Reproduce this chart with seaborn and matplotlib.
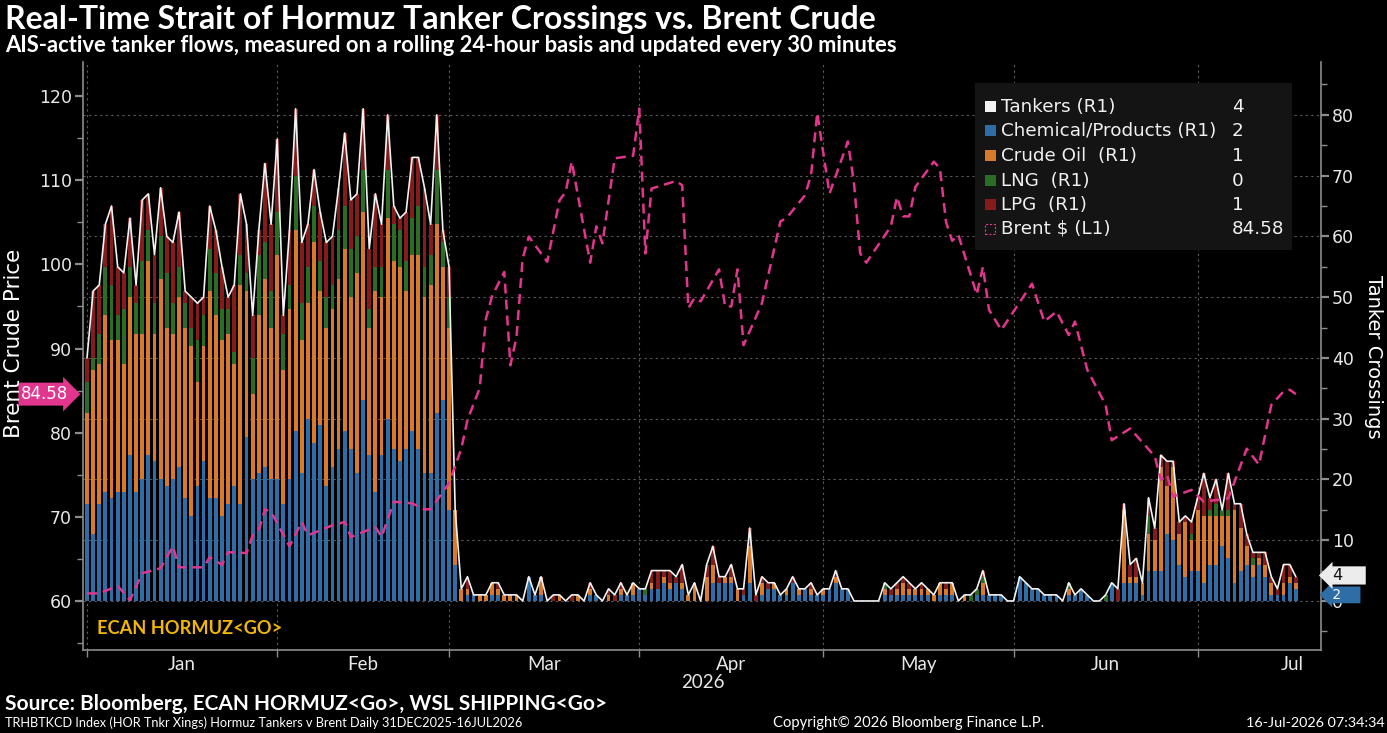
import matplotlib
matplotlib.use("Agg")
import numpy as np
import pandas as pd
import matplotlib.pyplot as plt
import matplotlib.transforms as mtransforms
from matplotlib import font_manager
from matplotlib.patches import Rectangle
from matplotlib.ticker import FixedLocator
import seaborn as sns

# ---- data (daily, 31 Dec 2025 .. 16 Jul 2026) ----
start = pd.Timestamp("2025-12-31")
end = pd.Timestamp("2026-07-16")

chemical = [
    16, 11, 16, 18, 17, 18, 18, 24, 18, 20,  24, 23, 20, 19, 20, 22, 17, 14, 19, 23,
    17, 17, 14, 16, 19, 16, 27, 20, 21, 22,  20, 20, 16, 20, 28, 21, 30, 26, 29, 19,
    22, 25, 28, 25, 21, 33, 24, 18, 24, 30,  25, 23, 25, 28, 25, 21, 21, 31, 33, 15,
    6, 0, 1, 1, 0, 0, 1, 1, 0, 0,  0, 0, 4, 1, 1, 0, 0, 0, 0, 0,
    0, 0, 1, 1, 0, 0, 0, 1, 1, 1,  2, 1, 2, 2, 3, 2, 3, 2, 0, 0,
    0, 0, 3, 3, 3, 3, 0, 1, 3, 0,  1, 2, 2, 1, 1, 3, 1, 2, 1, 1,
    1, 2, 3, 2, 2, 0, 0, 0, 0, 0,  1, 1, 1, 1, 1, 1, 1, 1, 0, 1,
    1, 1, 0, 0, 0, 1, 1, 1, 1, 1,  0, 0, 4, 3, 2, 2, 1, 1, 1, 0,
    1, 1, 2, 1, 0, 0, 0, 3, 0, 3,  3, 3, 1, 5, 5, 5, 11, 10, 6, 4,
    5, 5, 3, 6, 6, 9, 7, 3, 5, 6,  4, 6, 4, 1, 1, 1, 3, 2,
]
crude = [
    15, 27, 23, 29, 26, 25, 21, 26, 26, 24,  32, 21, 33, 26, 24, 28, 28, 28, 17, 19,
    34, 30, 29, 28, 20, 36, 24, 14, 26, 31,  25, 37, 22, 28, 33, 22, 19, 33, 22, 26,
    26, 28, 30, 25, 33, 31, 21, 33, 26, 33,  31, 32, 26, 29, 32, 29, 31, 31, 22, 30,
    9, 2, 1, 0, 1, 1, 2, 1, 1, 1,  1, 0, 0, 0, 3, 0, 0, 1, 0, 0,
    1, 0, 1, 0, 0, 1, 0, 1, 0, 2,  0, 0, 1, 0, 1, 1, 0, 1, 1, 3,
    0, 4, 3, 0, 1, 1, 2, 0, 6, 0,  2, 0, 1, 0, 1, 0, 1, 0, 1, 0,
    1, 0, 1, 0, 0, 0, 0, 0, 0, 0,  1, 0, 1, 2, 1, 1, 1, 1, 1, 2,
    1, 2, 0, 1, 0, 0, 2, 0, 0, 0,  0, 0, 0, 0, 0, 0, 0, 0, 0, 0,
    1, 0, 0, 0, 0, 0, 0, 0, 0, 12,  1, 1, 2, 6, 5, 17, 8, 12, 5, 9,
    5, 10, 11, 8, 8, 5, 7, 12, 7, 3,  2, 1, 2, 2, 0, 2, 1, 1,
]
lng = [
    5, 2, 5, 8, 9, 4, 9, 5, 5, 12,  5, 5, 7, 9, 5, 5, 4, 3, 7, 5,
    7, 7, 5, 4, 2, 5, 3, 6, 10, 6,  6, 7, 6, 4, 9, 6, 6, 6, 5, 5,
    4, 8, 7, 8, 6, 7, 3, 4, 5, 8,  6, 6, 5, 6, 8, 5, 5, 9, 4, 5,
    0, 0, 0, 0, 0, 0, 0, 0, 0, 0,  0, 0, 0, 0, 0, 0, 0, 0, 0, 0,
    0, 0, 0, 0, 0, 0, 0, 0, 0, 0,  0, 1, 0, 0, 0, 0, 0, 0, 0, 0,
    0, 0, 0, 0, 0, 0, 0, 0, 0, 0,  0, 0, 0, 0, 0, 0, 0, 0, 0, 0,
    0, 0, 0, 0, 0, 0, 0, 0, 0, 0,  1, 0, 0, 0, 0, 0, 0, 0, 0, 0,
    0, 0, 0, 0, 1, 1, 1, 0, 0, 0,  0, 0, 0, 0, 0, 0, 0, 0, 0, 0,
    1, 0, 0, 0, 0, 0, 1, 0, 0, 0,  0, 0, 0, 3, 0, 0, 0, 0, 0, 0,
    1, 0, 0, 1, 2, 1, 1, 0, 0, 0,  1, 0, 0, 0, 0, 0, 0, 0,
]
lpg = [
    4, 11, 8, 7, 13, 8, 6, 8, 3, 10,  6, 8, 8, 6, 10, 9, 2, 5, 6, 3,
    7, 7, 7, 2, 11, 10, 8, 7, 4, 13,  11, 12, 3, 9, 11, 10, 7, 6, 8, 9,
    8, 7, 12, 8, 7, 10, 10, 12, 7, 9,  3, 2, 8, 10, 8, 13, 5, 9, 2, 5,
    0, 0, 2, 0, 0, 0, 0, 1, 0, 0,  0, 0, 0, 0, 0, 0, 1, 0, 0, 1,
    0, 0, 1, 0, 0, 1, 1, 1, 0, 0,  0, 0, 2, 3, 1, 2, 1, 3, 0, 0,
    0, 2, 3, 1, 0, 2, 0, 1, 3, 1,  1, 1, 0, 0, 0, 1, 0, 0, 1, 0,
    0, 0, 1, 0, 0, 0, 0, 0, 0, 0,  0, 1, 1, 1, 1, 0, 1, 0, 0, 0,
    1, 0, 0, 0, 0, 0, 1, 0, 0, 0,  0, 0, 0, 0, 0, 0, 0, 0, 0, 0,
    0, 0, 0, 0, 0, 0, 0, 0, 2, 1,  2, 3, 0, 3, 2, 2, 4, 1, 2, 1,
    2, 2, 7, 2, 4, 0, 6, 1, 4, 2,  1, 1, 2, 1, 1, 3, 2, 1,
]

# Brent: day offset from 31 Dec 2025 and price
brent_day = [
    0, 2, 5, 7, 9, 12, 14, 15, 19, 20, 22, 23, 26, 27, 28, 29, 30, 33, 35, 36,
    40, 42, 43, 47, 48, 50, 53, 55, 56, 59, 61, 62, 64, 65, 66, 68, 69, 70, 71, 72,
    75, 77, 78, 79, 82, 83, 84, 86, 89, 90, 91, 92, 96, 97, 98, 99, 100, 103, 104, 105,
    106, 107, 110, 113, 114, 117, 118, 119, 121, 124, 125, 126, 127, 131, 132, 133, 134, 135, 138, 139,
    140, 141, 142, 145, 146, 147, 149, 154, 156, 158, 160, 161, 163, 166, 167, 170, 174, 175, 176, 177,
    180, 182, 186, 189, 191, 193, 195, 196, 197,
]
brent_price = [
    60.9, 60.9, 61.8, 60.1, 63.3, 63.9, 66.5, 64.0, 64.0, 65.2, 64.3, 65.8, 65.7, 67.8, 68.4, 70.9, 70.6, 66.5, 69.4, 67.8,
    69.0, 69.4, 67.6, 68.8, 67.6, 71.8, 71.6, 70.9, 70.9, 74.0, 78.1, 81.5, 85.3, 93.5, 96.2, 99.1, 88.0, 91.4, 100.7, 103.3,
    100.3, 107.6, 108.6, 112.2, 100.2, 104.5, 102.5, 112.6, 112.9, 118.5, 101.3, 109.0, 109.9, 109.4, 94.8, 96.0, 95.6, 99.4, 95.0, 95.0,
    99.4, 90.4, 95.4, 105.1, 105.5, 108.2, 110.6, 118.0, 108.4, 114.6, 109.6, 101.3, 100.2, 104.5, 108.0, 105.7, 105.7, 109.2, 112.2, 111.4,
    105.0, 102.8, 103.5, 96.4, 99.7, 94.6, 92.2, 97.7, 93.2, 94.4, 91.6, 93.2, 87.5, 83.3, 79.1, 80.5, 77.2, 74.4, 75.0, 72.4,
    73.2, 71.8, 72.2, 78.1, 76.2, 83.3, 84.9, 85.1, 84.58,
]

legend_names = ["Tankers (R1)", "Chemical/Products (R1)", "Crude Oil  (R1)",
                "LNG  (R1)", "LPG  (R1)", "Brent $ (L1)"]

# ---- prep ----
dates = pd.date_range(start, end, freq="D")
days = np.asarray((dates - start).days)
chem = np.array(chemical)
crud = np.array(crude)
lngv = np.array(lng)
lpgv = np.array(lpg)
total = chem + crud + lngv + lpgv

C_CHEM = "#2e6da6"
C_CRUDE = "#d97a2b"
C_LNG = "#2b6d25"
C_LPG = "#851b1b"
C_TANK = "#f2f2f2"
C_BRENT = "#e2358e"
GRID = "#5c5c5c"
TICK = "#8c8c8c"

sns.set_theme(style="dark")
plt.rcParams["font.family"] = ["DejaVu Sans"]
avail = {f.name for f in font_manager.fontManager.ttflist}
NARROW = ["Lato", "DejaVu Sans"] if "Lato" in avail else ["DejaVu Sans"]

W, H = 1387, 733
fig = plt.figure(figsize=(W / 100, H / 100), dpi=100, facecolor="black")
ax = fig.add_axes([83 / W, 1 - 650 / H, (1321 - 83) / W, (650 - 62) / H])
ax2 = ax.twinx()

# stacked bars: draw cumulative heights, tallest first
stacks = [(total, C_LPG), (chem + crud + lngv, C_LNG), (chem + crud, C_CRUDE), (chem, C_CHEM)]
for vals, col in stacks:
    sns.barplot(x=days, y=vals, color=col, saturation=1, width=0.62, native_scale=True,
                errorbar=None, linewidth=0, ax=ax2)
sns.lineplot(x=days, y=total, color=C_TANK, linewidth=1.2, ax=ax2, zorder=3)
sns.lineplot(x=brent_day, y=brent_price, color=C_BRENT, linewidth=1.8,
             linestyle=(0, (4, 2.4)), ax=ax)

# month boundaries / labels
month_starts = pd.date_range("2026-01-01", "2026-08-01", freq="MS")
bounds = np.asarray((month_starts - start).days) - 1
mids = (bounds[:-1] + bounds[1:]) / 2
for b in bounds[:-1]:
    ax2.axvline(b, color=GRID, linestyle=(0, (2, 3)), linewidth=0.8, zorder=0.5)

ax.set_zorder(ax2.get_zorder() + 1)
ax.patch.set_visible(False)
ax2.set_facecolor("black")
ax2.set_axisbelow(True)

ax.set_xlim(-0.65, 201.1)
ax.set_ylim(54.18, 124.04)
ax2.set_ylim(-8.07, 88.7)

ax.grid(False)
ax2.grid(False)
ax2.yaxis.grid(True, color=GRID, linestyle=(0, (2, 3)), linewidth=0.8)

ax.yaxis.set_major_locator(FixedLocator(np.arange(60, 121, 10)))
ax.yaxis.set_minor_locator(FixedLocator(np.arange(55, 126, 5)))
ax2.yaxis.set_major_locator(FixedLocator(np.arange(0, 81, 10)))
ax2.yaxis.set_minor_locator(FixedLocator(np.arange(-5, 86, 5)))
ax.set_xticks(mids)
ax.set_xticklabels([d.strftime("%b") for d in month_starts[:-1]])
ax.xaxis.set_minor_locator(FixedLocator(bounds[:-1]))

for a in (ax, ax2):
    a.set_xlabel("")
    a.set_ylabel("")
    for s in a.spines.values():
        s.set_visible(False)
ax.spines["left"].set_visible(True)
ax.spines["bottom"].set_visible(True)
ax2.spines["right"].set_visible(True)
for s in (ax.spines["left"], ax.spines["bottom"], ax2.spines["right"]):
    s.set_color(TICK)
    s.set_linewidth(1.2)

ax.tick_params(axis="y", which="major", direction="out", length=6, width=1.6, color=TICK,
               labelcolor="#e8e8e8", labelsize=12.5, pad=2, left=True)
ax.tick_params(axis="y", which="minor", direction="out", length=4, width=1, color=TICK, left=True)
ax2.tick_params(axis="y", which="major", direction="out", length=6, width=1.6, color=TICK,
                labelcolor="#e8e8e8", labelsize=12.5, pad=2, right=True)
ax2.tick_params(axis="y", which="minor", direction="out", length=4, width=1, color=TICK, right=True)
ax2.tick_params(axis="x", which="both", bottom=False, labelbottom=False)
ax.tick_params(axis="x", which="major", length=0, labelcolor="#e8e8e8", labelsize=13.5, pad=4,
               bottom=True, labelbottom=True)
ax.tick_params(axis="x", which="minor", direction="out", length=5, width=1, color=TICK, bottom=True)
for lab in ax.get_xticklabels():
    lab.set_family(NARROW)

# value tags
tr_l = mtransforms.blended_transform_factory(ax.transAxes, ax.transData)
ax.text(-0.012, brent_price[-1], f"{brent_price[-1]:.2f}", transform=tr_l, ha="right", va="center",
        color="white", fontsize=12, clip_on=False,
        bbox=dict(boxstyle="rarrow,pad=0.15", fc=C_BRENT, ec="none"))
tr_r = mtransforms.blended_transform_factory(ax2.transAxes, ax2.transData)
ax2.text(1.006, chem[-1] - 1.0, f" {chem[-1]}    ", transform=tr_r, ha="left", va="center",
         color="white", fontsize=10, clip_on=False, zorder=5,
         bbox=dict(boxstyle="larrow,pad=0.1", fc=C_CHEM, ec="none"))
ax2.text(1.006, total[-1] + 0.2, f" {total[-1]}    ", transform=tr_r, ha="left", va="center",
         color="#111111", fontsize=11.5, clip_on=False, zorder=6,
         bbox=dict(boxstyle="larrow,pad=0.1", fc="#ececec", ec="none"))

# ---- texts ----
def px(x):
    return x / W

def py(y):
    return 1 - y / H

title = fig.text(px(5), py(20), "Real-Time Strait of Hormuz Tanker Crossings vs. Brent Crude",
                 color="white", fontsize=22, weight="bold", family=NARROW, va="center")
subtitle = fig.text(px(5), py(45),
                    "AIS-active tanker flows, measured on a rolling 24-hour basis and updated every 30 minutes",
                    color="white", fontsize=14.5, weight="bold", family=NARROW, va="center")
fig.text(px(14), py(343), "Brent Crude Price", color="white", fontsize=15.5, rotation=90,
         ha="center", va="center")
fig.text(px(1374), py(357), "Tanker Crossings", color="white", fontsize=14, rotation=270,
         ha="center", va="center")
fig.text(px(703), py(683), "2026", color="#e8e8e8", fontsize=13.5, family=NARROW, ha="center", va="center")
ecan = fig.text(px(97), py(628), "ECAN HORMUZ<GO>", color="#f2b705", fontsize=14, weight="bold",
                family=NARROW, va="center")
source = fig.text(px(5), py(704), "Source: Bloomberg, ECAN HORMUZ<Go>, WSL SHIPPING<Go>", color="white",
                  fontsize=14.5, weight="bold", family=NARROW, va="center")
foot = fig.text(px(5), py(723),
                "TRHBTKCD Index (HOR Tnkr Xings) Hormuz Tankers v Brent Daily 31DEC2025-16JUL2026",
                color="white", fontsize=9.5, family=NARROW, va="center")
copy_t = fig.text(px(909), py(723), "Copyright\u00a9 2026 Bloomberg Finance L.P.", color="white",
                  fontsize=9.5, family=NARROW, ha="center", va="center")
stamp = fig.text(px(1385), py(723), "16-Jul-2026 07:34:34", color="white", fontsize=9.5,
                 family=NARROW, ha="right", va="center")

# scale the condensed-looking texts to the widths they take in the original
renderer = fig.canvas.get_renderer()
for t, target in [(title, 870), (subtitle, 892), (source, 602), (foot, 522), (ecan, 186),
                  (copy_t, 272), (stamp, 140)]:
    w = t.get_window_extent(renderer).width
    t.set_fontsize(t.get_fontsize() * target / w)

# ---- legend panel ----
fig.patches.append(Rectangle((px(975), py(250)), px(1292) - px(975), py(83) - py(250),
                             transform=fig.transFigure, fc="#141414", ec="none", zorder=10))
leg_colors = [C_TANK, C_CHEM, C_CRUDE, C_LNG, C_LPG, None]
leg_values = [str(total[-1]), str(chem[-1]), str(crud[-1]), str(lngv[-1]), str(lpgv[-1]),
              f"{brent_price[-1]:.2f}"]
row_y = [107, 131, 156, 181, 205, 229]
for name, col, val, yy in zip(legend_names, leg_colors, leg_values, row_y):
    if col is None:
        fig.patches.append(Rectangle((px(985), py(yy + 5)), px(10), 10 / H, transform=fig.transFigure,
                                     fc="none", ec=C_BRENT, lw=0.8, ls=(0, (2, 1.5)), zorder=11))
    else:
        fig.patches.append(Rectangle((px(985), py(yy + 5)), px(11), 11 / H, transform=fig.transFigure,
                                     fc=col, ec="none", zorder=11))
    fig.text(px(1001), py(yy), name, color="#f0f0f0", fontsize=13.2, va="center", zorder=12)
    fig.text(px(1232), py(yy), val, color="#f0f0f0", fontsize=13.2, va="center", zorder=12)

fig.savefig("out.png", dpi=100, facecolor="black")
